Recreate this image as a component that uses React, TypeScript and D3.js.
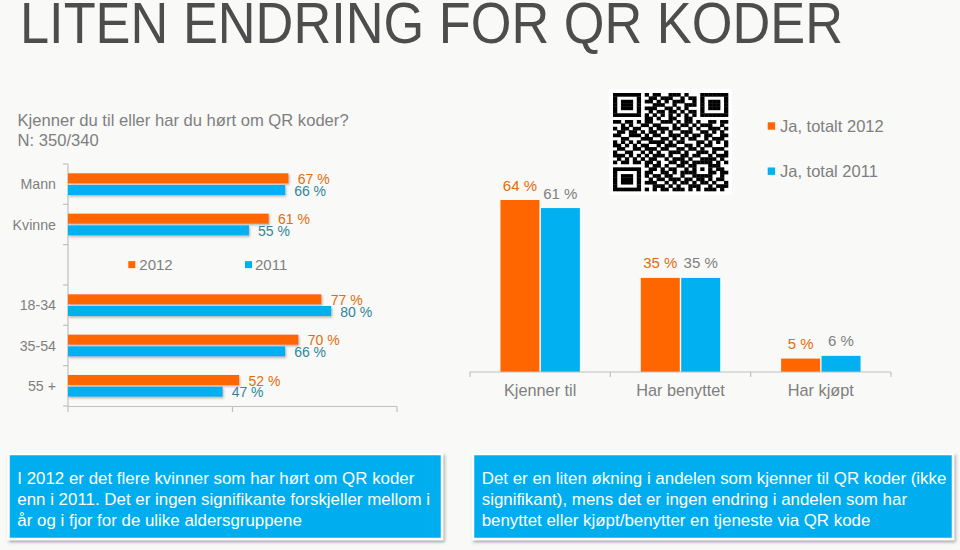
import React from "react";
import * as d3 from "d3";

const title = "LITEN ENDRING FOR QR KODER";
const subtitleLines = ["Kjenner du til eller har du hørt om QR koder?", "N: 350/340"];

const leftCategories = ["Mann", "Kvinne", "18-34", "35-54", "55 +"];
const leftSlots = ["Mann", "Kvinne", "__legend__", "18-34", "35-54", "55 +"];
const left2012 = [67, 61, 77, 70, 52];
const left2011 = [66, 55, 80, 66, 47];
const leftTicks = [0, 50, 100];
const leftSeries = ["2012", "2011"];

const rightCategories = ["Kjenner til", "Har benyttet", "Har kjøpt"];
const right2012 = [64, 35, 5];
const right2011 = [61, 35, 6];
const rightSeries = ["Ja, totalt 2012", "Ja, total 2011"];

const leftNote = [
  "I 2012 er det flere kvinner som har hørt om QR koder",
  "enn i 2011. Det er ingen signifikante forskjeller mellom i",
  "år og i fjor for de ulike aldersgruppene",
];
const rightNote = [
  "Det er en liten økning i andelen som kjenner til QR koder (ikke",
  "signifikant), mens det er ingen endring i andelen som har",
  "benyttet eller kjøpt/benytter en tjeneste via QR kode",
];

const qrRows = [
  "11111110101100111010001111111",
  "10000010011011100101101000001",
  "10111010110101011100101011101",
  "10111010001110010011101011101",
  "10111010111001101010001011101",
  "10000010010110110101101000001",
  "11111110101010101010101111111",
  "00000000110100110011000000000",
  "11011010110011101011010011011",
  "00101001101100010110101110010",
  "10110110010111011001010011101",
  "01101101011010100111001101010",
  "11001110101100111010110110011",
  "00110001110011010101100101110",
  "10101010011110101100011010101",
  "11010101100101110011010110001",
  "01100110111011001101101001110",
  "10011001010100111010011101001",
  "11101010101110100110110010111",
  "01010101011001011101001111010",
  "10110110110100110110111110101",
  "00000000101101001101100011100",
  "11111110011010110010101010110",
  "10000010110011010111100011011",
  "10111010101101100100111110010",
  "10111010010110111011011010110",
  "10111010111001010110101101001",
  "10000010001110101001110010111",
  "11111110101011011101010111010",
];

const ORANGE = "#FF6600";
const BLUE = "#00B0F0";
const ORANGE_TXT = "#E46C0A";
const TEAL_TXT = "#31859C";
const GRAY = "#7F7F7F";
const AXIS = "#BFBFBF";
const FONT = "'Liberation Sans', Arial, sans-serif";

export default function App() {
  // left chart scales
  const xL = d3.scaleLinear().domain([0, 100]).range([68, 397]);
  const yL = d3.scaleBand().domain(leftSlots).range([164, 406]);
  const inL = d3
    .scaleBand()
    .domain(leftSeries)
    .range([0, yL.bandwidth()])
    .paddingInner(0.14)
    .paddingOuter(0.8);

  // right chart scales
  const xR = d3.scaleBand().domain(rightCategories).range([470, 891]);
  const inR = d3
    .scaleBand()
    .domain(rightSeries)
    .range([0, xR.bandwidth()])
    .paddingInner(0.035)
    .paddingOuter(0.754);
  const yR = d3.scaleLinear().domain([0, 100]).range([372, 103.25]);

  const qrX = d3.scaleLinear().domain([0, 29]).range([613, 728]);
  const qrY = d3.scaleLinear().domain([0, 29]).range([93, 191]);

  const legendY = (yL("__legend__") as number) + yL.bandwidth() / 2;

  return (
    <svg
      width={960}
      height={550}
      style={{ position: "absolute", left: 0, top: 0, fontFamily: FONT }}
    >
      <defs>
        <filter id="barShadow" x="-5%" y="-50%" width="110%" height="220%">
          <feDropShadow dx="1" dy="1.5" stdDeviation="0.8" floodColor="#777" floodOpacity="0.55" />
        </filter>
        <filter id="boxShadow" x="-5%" y="-10%" width="110%" height="130%">
          <feDropShadow dx="1.5" dy="2" stdDeviation="1.5" floodColor="#555" floodOpacity="0.5" />
        </filter>
      </defs>
      <rect x={0} y={0} width={960} height={550} fill="#F9F9F7" />

      {/* title */}
      <text
        x={20}
        y={42.5}
        fontSize={57}
        fill="#4D4D4D"
        textLength={823}
        lengthAdjust="spacingAndGlyphs"
      >
        {title}
      </text>
      {subtitleLines.map((t, i) => (
        <text key={i} x={17.5} y={125.5 + i * 20} fontSize={16.6} fill={GRAY}>
          {t}
        </text>
      ))}

      {/* left chart axes */}
      <line x1={68} x2={68} y1={164} y2={406} stroke={AXIS} strokeWidth={1.2} />
      {yL.domain().concat(["end"]).map((d, i) => {
        const yy = i < leftSlots.length ? (yL(d) as number) : 406;
        return <line key={"lt" + i} x1={63} x2={68} y1={yy} y2={yy} stroke={AXIS} strokeWidth={1.2} />;
      })}
      <line x1={68} x2={397} y1={406.5} y2={406.5} stroke={AXIS} strokeWidth={1.2} />
      {leftTicks.map((t) => (
        <line key={"bt" + t} x1={xL(t)} x2={xL(t)} y1={406.5} y2={412} stroke={AXIS} strokeWidth={1.2} />
      ))}

      {leftCategories.map((c, i) => {
        const y0 = yL(c) as number;
        const yo = y0 + (inL("2012") as number);
        const yb = y0 + (inL("2011") as number);
        const h = inL.bandwidth();
        return (
          <g key={c}>
            <text
              x={56}
              y={y0 + yL.bandwidth() / 2 + 5}
              textAnchor="end"
              fontSize={14.2}
              fill={GRAY}
            >
              {c}
            </text>
            <rect x={68} y={yo} width={xL(left2012[i]) - 68} height={h} fill={ORANGE} filter="url(#barShadow)" />
            <rect x={68} y={yb} width={xL(left2011[i]) - 68} height={h} fill={BLUE} filter="url(#barShadow)" />
            <text x={xL(left2012[i]) + 9.4} y={yo + h + 0.5} fontSize={14} fill={ORANGE_TXT}>
              {left2012[i]} %
            </text>
            <text x={xL(left2011[i]) + 9} y={yb + h + 0.8} fontSize={14} fill={TEAL_TXT}>
              {left2011[i]} %
            </text>
          </g>
        );
      })}

      {/* left legend */}
      <rect x={128.3} y={legendY - 3.7} width={7} height={7} fill={ORANGE} />
      <text x={139.3} y={legendY + 5.6} fontSize={15} fill={GRAY}>
        {leftSeries[0]}
      </text>
      <rect x={245} y={legendY - 3.7} width={7} height={7} fill={BLUE} />
      <text x={255} y={legendY + 5.6} fontSize={15} fill={GRAY}>
        {leftSeries[1]}
      </text>

      {/* right chart */}
      {rightCategories.map((c, i) => {
        const x0 = xR(c) as number;
        const xo = x0 + (inR(rightSeries[0]) as number);
        const xb = x0 + (inR(rightSeries[1]) as number);
        const w = inR.bandwidth();
        return (
          <g key={c}>
            <rect x={xo} y={yR(right2012[i])} width={w} height={372 - yR(right2012[i])} fill={ORANGE} />
            <rect x={xb} y={yR(right2011[i])} width={w} height={372 - yR(right2011[i])} fill={BLUE} />
            <text x={xo + w / 2} y={yR(right2012[i]) - 9.5} textAnchor="middle" fontSize={15} fill={ORANGE_TXT}>
              {right2012[i]} %
            </text>
            <text x={xb + w / 2} y={yR(right2011[i]) - 9.5} textAnchor="middle" fontSize={15} fill={GRAY}>
              {right2011[i]} %
            </text>
            <text x={x0 + xR.bandwidth() / 2} y={396} textAnchor="middle" fontSize={16.3} fill={GRAY}>
              {c}
            </text>
          </g>
        );
      })}
      <line x1={470} x2={891} y1={372} y2={372} stroke={AXIS} strokeWidth={1.2} />
      {rightCategories.map((c) => (
        <line key={"rt" + c} x1={xR(c) as number} x2={xR(c) as number} y1={372} y2={377} stroke={AXIS} strokeWidth={1.2} />
      ))}
      <line x1={891} x2={891} y1={372} y2={377} stroke={AXIS} strokeWidth={1.2} />

      {/* right legend */}
      <rect x={767.7} y={122.3} width={7.4} height={7.4} fill={ORANGE} />
      <text x={780} y={131.5} fontSize={16.5} fill={GRAY}>
        {rightSeries[0]}
      </text>
      <rect x={767.7} y={167.5} width={7.4} height={7.4} fill={BLUE} />
      <text x={780} y={176.7} fontSize={16.5} fill={GRAY}>
        {rightSeries[1]}
      </text>

      {/* QR code */}
      <rect x={609} y={89} width={123} height={106} fill="#FFFFFF" />
      {qrRows.map((row, r) =>
        row.split("").map((ch, c) =>
          ch === "1" ? (
            <rect
              key={r + "-" + c}
              x={qrX(c)}
              y={qrY(r)}
              width={qrX(c + 1) - qrX(c) + 0.3}
              height={qrY(r + 1) - qrY(r) + 0.3}
              fill="#000"
            />
          ) : null
        )
      )}

      {/* note boxes */}
      <rect x={8.5} y={454} width={433.5} height={85} fill="#00AEEF" stroke="#FFFFFF" strokeWidth={2.5} filter="url(#boxShadow)" />
      {leftNote.map((t, i) => (
        <text key={"ln" + i} x={17.3} y={484 + i * 21} fontSize={16.9} fill="#FFFFFF">
          {t}
        </text>
      ))}
      <rect x={473} y={454} width={480} height={85} fill="#00AEEF" stroke="#FFFFFF" strokeWidth={2.5} filter="url(#boxShadow)" />
      {rightNote.map((t, i) => (
        <text key={"rn" + i} x={481.7} y={484 + i * 21} fontSize={16.9} fill="#FFFFFF">
          {t}
        </text>
      ))}
    </svg>
  );
}
